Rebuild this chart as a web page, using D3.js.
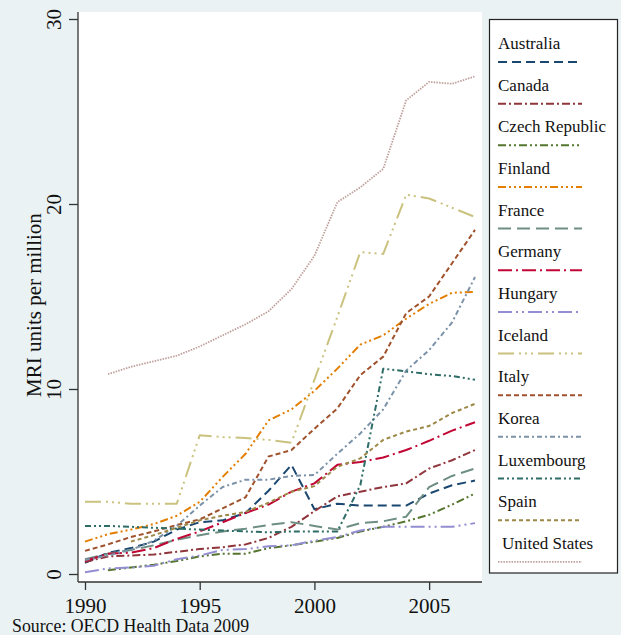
<!DOCTYPE html>
<html>
<head>
<meta charset="utf-8">
<script src="https://cdn.jsdelivr.net/npm/d3@7"></script>
<style>
  html, body { margin: 0; padding: 0; background: #EAF2F3; }
  svg { display: block; }
  text { font-family: "Liberation Serif", "Times New Roman", serif; fill: #111; }
</style>
</head>
<body>
<svg id="chart" width="621" height="635"></svg>
<script>
// MRI units per million population, OECD Health Data 2009
const years = [1990,1991,1992,1993,1994,1995,1996,1997,1998,1999,2000,2001,2002,2003,2004,2005,2006,2007];

const australia  = [0.6,1.15,1.4,1.75,2.4,2.8,2.9,3.3,4.5,5.9,3.5,3.8,3.7,3.7,3.7,4.35,4.8,5.05];
const canada     = [0.65,0.95,1.0,1.05,1.2,1.35,1.45,1.6,1.95,2.55,3.4,4.2,4.45,4.7,4.9,5.7,6.15,6.7];
const czech      = [null,0.2,0.35,0.5,0.7,0.95,1.1,1.1,1.4,1.55,1.75,1.95,2.3,2.55,2.85,3.2,3.75,4.35];
const finland    = [1.75,2.15,2.4,2.7,3.15,3.9,5.25,6.5,8.3,8.9,9.9,11.1,12.4,12.9,13.8,14.6,15.2,15.25];
const france     = [0.8,1.1,1.3,1.55,1.85,2.1,2.3,2.45,2.65,2.8,2.6,2.4,2.75,2.85,3.1,4.7,5.3,5.7];
const germany    = [0.7,1.1,1.15,1.4,1.9,2.3,2.8,3.3,3.75,4.45,4.9,5.9,6.05,6.3,6.7,7.2,7.75,8.2];
const hungary    = [0.1,0.3,0.35,0.45,0.8,1.0,1.3,1.35,1.5,1.55,1.8,2.0,2.35,2.55,2.55,2.55,2.55,2.75];
const iceland    = [3.9,3.9,3.8,3.8,3.8,7.5,7.4,7.35,7.25,7.1,10.5,13.9,17.4,17.3,20.5,20.3,19.8,19.3];
const italy      = [1.25,1.6,2.0,2.3,2.65,2.95,3.55,4.15,6.35,6.7,7.85,8.95,10.75,11.75,14.1,15.0,16.8,18.6];
const korea      = [0.75,1.0,1.3,1.8,2.6,3.7,4.7,5.1,5.1,5.3,5.35,6.5,7.6,8.9,11.0,12.1,13.6,16.05];
const luxembourg = [2.6,2.6,2.55,2.5,2.45,2.4,2.35,2.3,2.25,2.3,2.3,2.3,4.8,11.1,10.95,10.8,10.7,10.5];
const spain      = [null,null,1.75,2.1,2.5,2.9,3.15,3.35,3.85,4.45,4.75,5.8,6.25,7.25,7.7,8.0,8.7,9.2];
const usa        = [null,10.8,11.2,11.5,11.8,12.3,12.9,13.5,14.2,15.4,17.2,20.1,20.9,21.9,25.6,26.6,26.5,26.9];

const countries = ["Australia","Canada","Czech Republic","Finland","France","Germany","Hungary",
                   "Iceland","Italy","Korea","Luxembourg","Spain","United States"];
const seriesValues = [australia,canada,czech,finland,france,germany,hungary,
                      iceland,italy,korea,luxembourg,spain,usa];

const xTicks = [1990,1995,2000,2005];
const yTicks = [0,10,20,30];

// Stata s2color palette and line patterns
const colors = ["#1A476F","#90353B","#55752F","#E37E00","#6E8E84","#C10534","#938DD2",
                "#CAC27E","#A0522D","#7B92A8","#2D6D66","#9C8847","#BFA19C"];
const dashes = ["9,5","8,3,2,3","8,3,2,3,2,3","8,3,2,3,2,3,2,3","13,6","14,4,2,4","14,4,2,4,2,4",
                "16,5,2,4,2,4,2,5","5,3","5,3,2,3","6,3,2,3,2,3","4,3","1.5,1.2"];
const widths = [2,2,2,2,2,2,2,2,2,2,2,2,1.8];

const svg = d3.select("#chart");
const W = 621, H = 635;
const plot = {left: 78, right: 482, top: 12, bottom: 582};

svg.append("rect").attr("width", W).attr("height", H).attr("fill", "#EAF2F3");
svg.append("rect")
  .attr("x", plot.left).attr("y", plot.top)
  .attr("width", plot.right - plot.left).attr("height", plot.bottom - plot.top)
  .attr("fill", "#fff");

const x = d3.scaleLinear().domain([1990, 2007]).range([85, 475]);
const y = d3.scaleLinear().domain([0, 30]).range([574, 19]);

// series
const line = d3.line()
  .defined(d => d.v != null)
  .x(d => x(d.year))
  .y(d => y(d.v));

const series = countries.map((name, i) => ({
  name, color: colors[i], dash: dashes[i], width: widths[i],
  values: years.map((yr, j) => ({year: yr, v: seriesValues[i][j]}))
}));

const lines = svg.append("g");
series.forEach(s => {
  lines.append("path")
    .datum(s.values)
    .attr("d", line)
    .attr("fill", "none")
    .attr("stroke", s.color)
    .attr("stroke-width", s.width)
    .attr("stroke-dasharray", s.dash)
    .attr("stroke-linejoin", "round");
});

// axes
const axisColor = "#333";
svg.append("line").attr("x1", plot.left).attr("x2", plot.left)
  .attr("y1", plot.top).attr("y2", plot.bottom).attr("stroke", axisColor).attr("stroke-width", 1.3);
svg.append("line").attr("x1", plot.left).attr("x2", plot.right)
  .attr("y1", plot.bottom).attr("y2", plot.bottom).attr("stroke", axisColor).attr("stroke-width", 1.3);

const yAxis = svg.append("g")
  .attr("transform", `translate(${plot.left},0)`)
  .call(d3.axisLeft(y).tickValues(yTicks).tickSize(9).tickFormat(d3.format("d")));
yAxis.select(".domain").remove();
yAxis.selectAll(".tick line").attr("stroke", axisColor).attr("stroke-width", 1.3);
yAxis.selectAll(".tick text")
  .attr("x", null).attr("dy", null)
  .attr("text-anchor", "middle")
  .attr("transform", "translate(-17,0) rotate(-90)")
  .attr("y", 0)
  .style("font-size", "21px")
  .style("font-family", "'Liberation Serif', serif")
  .attr("fill", "#111");

const xAxis = svg.append("g")
  .attr("transform", `translate(0,${plot.bottom})`)
  .call(d3.axisBottom(x).tickValues(xTicks).tickSize(8).tickFormat(d3.format("d")));
xAxis.select(".domain").remove();
xAxis.selectAll(".tick line").attr("stroke", axisColor).attr("stroke-width", 1.3);
xAxis.selectAll(".tick text")
  .attr("y", 31).attr("dy", null)
  .style("font-size", "21px")
  .style("font-family", "'Liberation Serif', serif")
  .attr("fill", "#111");

// axis title
svg.append("text")
  .attr("transform", "translate(41,305) rotate(-90)")
  .attr("text-anchor", "middle")
  .style("font-size", "21px")
  .text("MRI units per million");

// note
svg.append("text")
  .attr("x", 12).attr("y", 632)
  .style("font-size", "17.8px")
  .text("Source: OECD Health Data 2009");

// legend
const legend = svg.append("g");
legend.append("rect")
  .attr("x", 489.5).attr("y", 19.5).attr("width", 128).attr("height", 553.5)
  .attr("fill", "#fff").attr("stroke", "#222").attr("stroke-width", 1.2);

const legendStep = 41.65;
series.forEach((s, i) => {
  const ly = 62 + i * legendStep;
  legend.append("text")
    .attr("x", s.name === "United States" ? 502 : 498)
    .attr("y", ly - 13)
    .style("font-size", "17px")
    .text(s.name);
  legend.append("line")
    .attr("x1", 498).attr("x2", 582)
    .attr("y1", ly).attr("y2", ly)
    .attr("stroke", s.color)
    .attr("stroke-width", s.width)
    .attr("stroke-dasharray", s.dash);
});
</script>
</body>
</html>
